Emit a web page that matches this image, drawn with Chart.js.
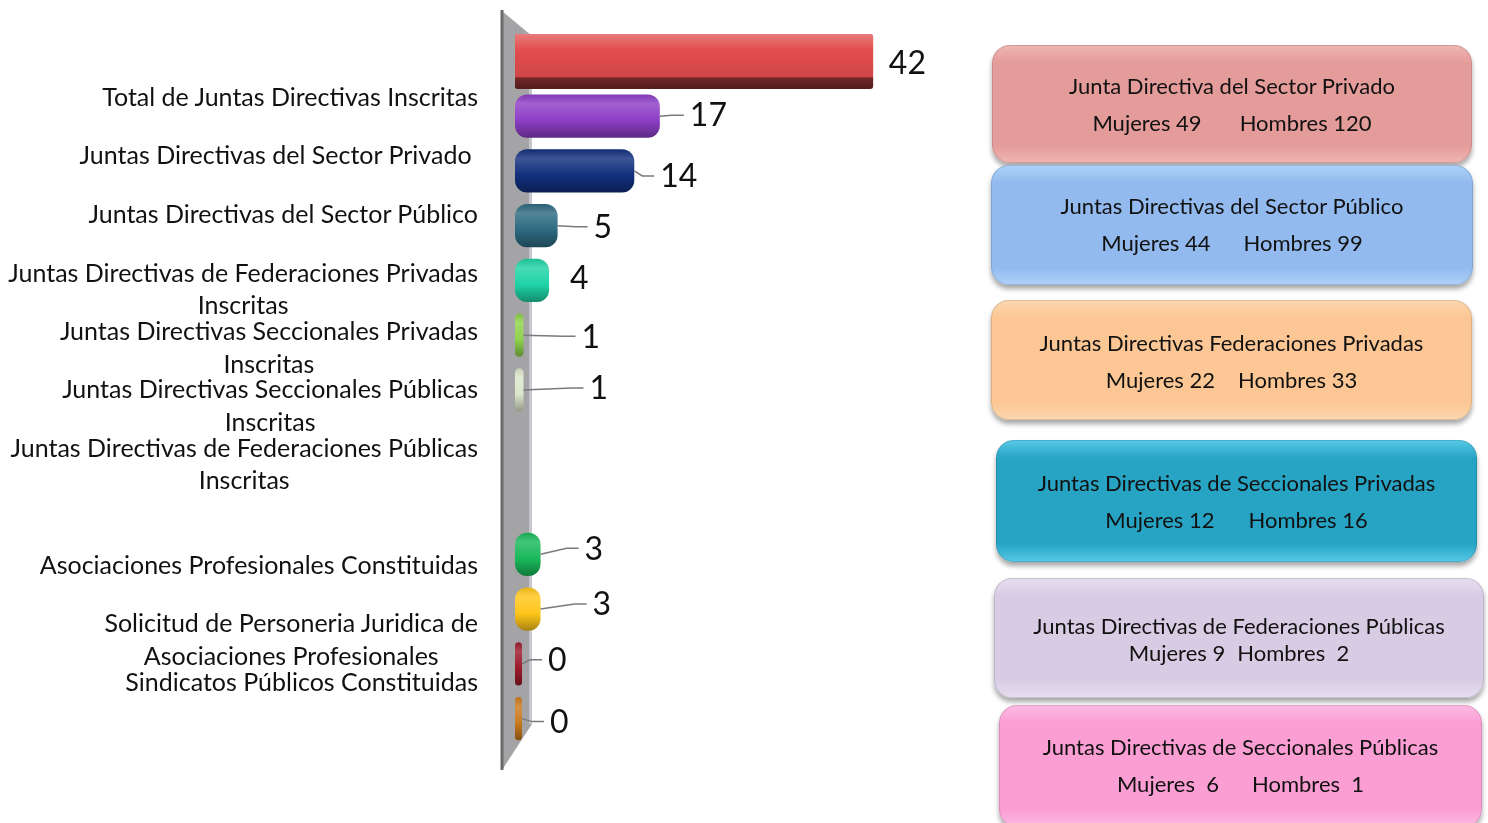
<!DOCTYPE html>
<html>
<head>
<meta charset="utf-8">
<script src="https://cdn.jsdelivr.net/npm/chart.js@4.4.0/dist/chart.umd.min.js"></script>
<style>
    html, body { margin: 0; padding: 0; background: #fff; width: 1488px; height: 823px; overflow: hidden; }
    body { font-family: Lato, 'Open Sans', sans-serif; color: #111; }
    #wrap { position: relative; width: 1488px; height: 823px; }
    #chart { position: absolute; left: 0; top: 0; }
    .lbl { position: absolute; right: 1010px; text-align: center; font-size: 25px; line-height: 32px; white-space: pre; }
    .box { position: absolute; box-sizing: border-box; border-radius: 18px; text-align: center; font-size: 22px;
           white-space: pre; border: 1px solid rgba(0,0,0,0.12); box-shadow: 0 4px 5px rgba(0,0,0,0.35); }
</style>
</head>
<body>
<div id="wrap">
    <canvas id="chart" width="1488" height="823"></canvas>
</div>
<script>
(function () {
    'use strict';

    // ── Data ────────────────────────────────────────────────
    // 13 bar slots, two of them left empty in the original chart
    const slotLabels = [
        'Total de Juntas Directivas Inscritas',
        'Juntas Directivas del Sector Privado',
        'Juntas Directivas del Sector Público',
        'Juntas Directivas de Federaciones Privadas Inscritas',
        'Juntas Directivas Seccionales Privadas Inscritas',
        'Juntas Directivas Seccionales Públicas Inscritas',
        'Juntas Directivas de Federaciones Públicas Inscritas',
        '', '',
        'Asociaciones Profesionales Constituidas',
        'Solicitud de Personeria Juridica de Asociaciones Profesionales',
        'Sindicatos Públicos Constituidas',
        ''
    ];
    const barValues = [42, 17, 14, 5, 4, 1, 1, null, null, 3, 3, 0, 0];

    // left-hand text block (not aligned to the bars in the original)
    const leftLabels = [
        'Total de Juntas Directivas Inscritas',
        'Juntas Directivas del Sector Privado ',
        'Juntas Directivas del Sector Público',
        'Juntas Directivas de Federaciones Privadas\nInscritas',
        'Juntas Directivas Seccionales Privadas\nInscritas',
        'Juntas Directivas Seccionales Públicas\nInscritas',
        'Juntas Directivas de Federaciones Públicas\nInscritas',
        'Asociaciones Profesionales Constituidas',
        'Solicitud de Personeria Juridica de\nAsociaciones Profesionales',
        'Sindicatos Públicos Constituidas'
    ];

    // right-hand summary boxes
    const boxTitles = [
        'Junta Directiva del Sector Privado',
        'Juntas Directivas del Sector Público',
        'Juntas Directivas Federaciones Privadas',
        'Juntas Directivas de Seccionales Privadas',
        'Juntas Directivas de Federaciones Públicas',
        'Juntas Directivas de Seccionales Públicas'
    ];
    const boxMujeres = [49, 44, 22, 12, 9, 6];
    const boxHombres = [120, 99, 33, 16, 2, 1];

    // ── Styles / layout ─────────────────────────────────────
    const barColors = ['#e24c4e', '#8d3ec6', '#112f7c', '#2d6a80', '#1ed3a6', '#8fd24c', '#dde6cc',
                       '#999', '#999', '#19b85a', '#ffc61a', '#9c1b2b', '#c97a1e'];
    // [text dx from bar end, text dy from bar centre, leader line]
    const valueLabelPos = [
        [16, 1, false], [30, -1, true], [26, 5, true], [36, 1, true], [21, -3, false],
        [58, 1, true], [66, -2, true], null, null, [44, -6, true], [52, -5, true], [26, -4, true], [28, 3, true]
    ];
    const leftLabelTop = [80, 138, 197, 256, 314, 372, 431, 548, 606, 665];
    const leftLabelLine = [32, 32, 32, 32, 33, 33, 32, 32, 33, 32];
    // [left, top, width, height, colour, light colour, first-line offset, line gap, gap between parts]
    const boxStyle = [
        [992, 45, 480, 118, '#e49c9a', '#efb4b2', 22, 37, 38],
        [991, 165, 482, 120, '#92baee', '#acd0f8', 22, 37, 33],
        [991, 300, 481, 120, '#fcc794', '#fdd7b0', 24, 37, 23],
        [996, 440, 481, 122, '#27a4c4', '#55c8e6', 24, 37, 34],
        [994, 578, 490, 120, '#d8cce4', '#e6ddf0', 34, 27, 12],
        [999, 705, 483, 122, '#fa9ed4', '#fdb9e2', 23, 37, 33]
    ];
    const mSep = [' ', ' ', ' ', ' ', ' ', '  '];
    const hSep = [' ', ' ', ' ', ' ', '  ', '  '];

    const wrap = document.getElementById('wrap');

    // ── Left text block ─────────────────────────────────────
    leftLabels.forEach((t, i) => {
        const d = document.createElement('div');
        d.className = 'lbl';
        d.style.top = leftLabelTop[i] + 'px';
        d.style.lineHeight = leftLabelLine[i] + 'px';
        d.textContent = t;
        wrap.appendChild(d);
    });

    // ── Right summary boxes ─────────────────────────────────
    boxTitles.forEach((t, i) => {
        const [l, tp, w, h, col, light, off, gap, mid] = boxStyle[i];
        const d = document.createElement('div');
        d.className = 'box';
        Object.assign(d.style, {
            left: l + 'px', top: tp + 'px', width: w + 'px', height: h + 'px',
            paddingTop: (off - 1) + 'px', lineHeight: gap + 'px',
            background: `linear-gradient(to bottom, ${light} 0%, ${col} 14%, ${col} 86%, ${light} 100%)`
        });
        const l1 = document.createElement('div');
        l1.textContent = t;
        const l2 = document.createElement('div');
        const a = document.createElement('span');
        a.textContent = 'Mujeres' + mSep[i] + boxMujeres[i];
        const b = document.createElement('span');
        b.textContent = 'Hombres' + hSep[i] + boxHombres[i];
        b.style.marginLeft = mid + 'px';
        l2.append(a, b);
        d.append(l1, l2);
        wrap.appendChild(d);
    });

    // ── Helpers ─────────────────────────────────────────────
    function mix(hex, amt) {
        const n = parseInt(hex.slice(1), 16);
        let r = n >> 16, g = (n >> 8) & 255, b = n & 255;
        const t = amt > 0 ? 255 : 0, p = Math.abs(amt);
        r = Math.round(r + (t - r) * p); g = Math.round(g + (t - g) * p); b = Math.round(b + (t - b) * p);
        return `rgb(${r},${g},${b})`;
    }

    function barFill(c) {
        const base = barColors[c.dataIndex] || '#999';
        const chart = c.chart, ys = chart.scales && chart.scales.y;
        if (!chart.chartArea || !ys) return base;
        const cy = ys.getPixelForValue(c.dataIndex);
        if (c.dataIndex === 0) {
            const g = chart.ctx.createLinearGradient(0, cy - 27, 0, cy + 27);
            g.addColorStop(0, mix(base, 0.25));
            g.addColorStop(0.3, base);
            g.addColorStop(0.78, mix(base, -0.08));
            g.addColorStop(0.81, mix(base, -0.5));
            g.addColorStop(1, mix(base, -0.62));
            return g;
        }
        const g = chart.ctx.createLinearGradient(0, cy - 22, 0, cy + 22);
        g.addColorStop(0, mix(base, -0.1));
        g.addColorStop(0.22, mix(base, 0.18));
        g.addColorStop(0.6, base);
        g.addColorStop(1, mix(base, -0.35));
        return g;
    }

    // ── Plugin: grey side wall ──────────────────────────────
    const wallPlugin = {
        id: 'wall',
        beforeDatasetsDraw(chart) {
            const { ctx, chartArea: a } = chart;
            const x0 = a.left - 13, x1 = a.left + 17;
            ctx.save();
            ctx.fillStyle = '#a4a4a6';
            ctx.beginPath();
            ctx.moveTo(x0, a.top - 23);
            ctx.lineTo(x1, a.top + 2);
            ctx.lineTo(x1, a.bottom - 22);
            ctx.lineTo(x0, a.bottom + 24);
            ctx.closePath();
            ctx.fill();
            ctx.fillStyle = '#c4c8cc';
            ctx.fillRect(x1 - 3, a.top + 2, 3, a.bottom - a.top - 24);
            ctx.strokeStyle = '#6a6a6a';
            ctx.lineWidth = 3;
            ctx.beginPath();
            ctx.moveTo(x0, a.top - 24);
            ctx.lineTo(x0, a.bottom + 24);
            ctx.stroke();
            ctx.restore();
        }
    };

    // ── Plugin: value labels with leader lines ──────────────
    const valueLabelPlugin = {
        id: 'valueLabels',
        afterDatasetsDraw(chart) {
            const { ctx } = chart;
            const els = [];
            chart.data.datasets.forEach((ds, d) => {
                chart.getDatasetMeta(d).data.forEach((el, i) => { if (ds.data[i] !== null) els[i] = el; });
            });
            ctx.save();
            ctx.font = '32px Lato, "Open Sans", sans-serif';
            ctx.textBaseline = 'middle';
            ctx.textAlign = 'left';
            els.forEach((el, i) => {
                const v = barValues[i];
                const pos = valueLabelPos[i];
                if (!el || v === null || !pos) return;
                const tx = el.x + pos[0], ty = el.y + pos[1];
                if (pos[2]) {
                    ctx.strokeStyle = '#7a7a7a';
                    ctx.lineWidth = 1.5;
                    ctx.beginPath();
                    ctx.moveTo(el.x, el.y);
                    const knee = Math.max(el.x + 4, tx - 18);
                    ctx.lineTo(knee, ty);
                    ctx.lineTo(tx - 6, ty);
                    ctx.stroke();
                }
                ctx.fillStyle = '#111';
                ctx.fillText(String(v), tx, ty + 1);
            });
            ctx.restore();
        }
    };

    // ── Chart ───────────────────────────────────────────────
    // the total bar is drawn thicker, as its own dataset
    const barCommon = {
        backgroundColor: barFill,
        borderWidth: 0,
        borderSkipped: false,
        minBarLength: 7,
        categoryPercentage: 1
    };

    new Chart(document.getElementById('chart'), {
        type: 'bar',
        data: {
            labels: slotLabels,
            datasets: [
                Object.assign({}, barCommon, {
                    data: barValues.map((v, i) => i === 0 ? v : null),
                    borderRadius: 3,
                    barPercentage: 1
                }),
                Object.assign({}, barCommon, {
                    data: barValues.map((v, i) => i === 0 ? null : v),
                    borderRadius: 12,
                    barPercentage: 0.79
                })
            ]
        },
        options: {
            indexAxis: 'y',
            responsive: false,
            animation: false,
            datasets: { bar: { grouped: false } },
            layout: { padding: { left: 515, right: 547, top: 34, bottom: 77 } },
            plugins: { legend: { display: false }, tooltip: { enabled: false } },
            scales: {
                x: { display: false, min: 0, max: 50 },
                y: { display: false }
            }
        },
        plugins: [wallPlugin, valueLabelPlugin]
    });
})();
</script>
</body>
</html>
